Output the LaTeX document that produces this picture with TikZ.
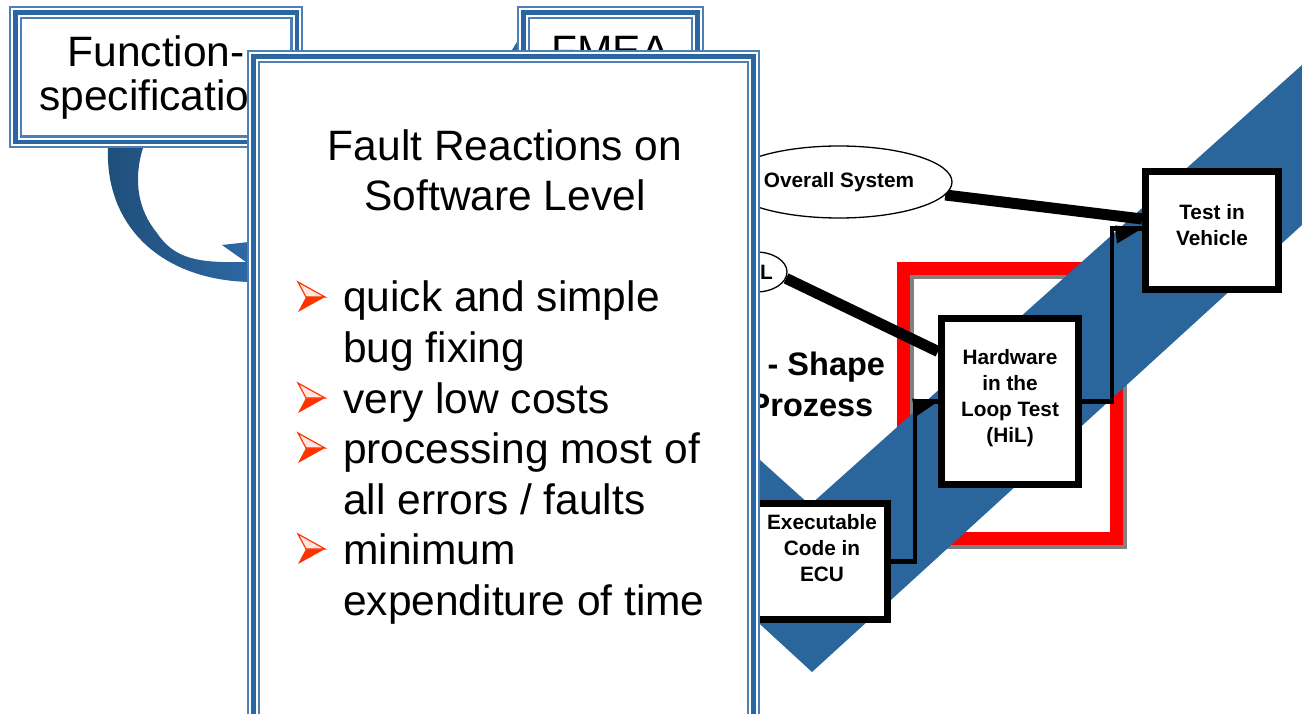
\documentclass[tikz,border=0pt]{standalone}
\usepackage{fontspec}
\setmainfont{Liberation Sans}
\usetikzlibrary{shapes.geometric,calc}
\definecolor{boxblue}{HTML}{2C66A0}
\definecolor{boxblueL}{HTML}{4A7FBA}
\definecolor{vblue}{HTML}{2A659B}
\definecolor{arrdark}{HTML}{1F4E79}
\definecolor{arrlight}{HTML}{2E6BA8}
\definecolor{bulred}{HTML}{FF3300}
\definecolor{framegray}{HTML}{808080}
\pgfdeclarelayer{back}
\pgfdeclarelayer{mid}
\pgfsetlayers{back,mid,main}
\tikzset{
  tribox/.style={rectangle, inner sep=0pt, align=center,
    preaction={fill=white},
    preaction={draw=boxblueL, line width=13pt},
    preaction={draw=white, line width=8.6pt},
    draw=boxblue, line width=4.5pt},
  blkbox/.style={rectangle, draw=black, line width=7pt, fill=white, inner sep=0pt,
    align=center, font=\fontsize{20.8}{25.7}\selectfont\bfseries},
  oval/.style={ellipse, draw=black, line width=1.3pt, fill=white, inner sep=0pt,
    font=\fontsize{20.8}{25.7}\selectfont\bfseries},
  conn/.style={draw=black, line width=4.5pt},
  thickconn/.style={draw=black, line width=11pt},
  bigtext/.style={inner sep=0pt, font=\fontsize{42.5}{50}\selectfont},
  vtext/.style={inner sep=0pt, align=center, font=\fontsize{32.5}{41}\selectfont\bfseries},
  bularrow/.pic={
    \fill[bulred] (0,15) -- (8,0) -- (27,0) -- cycle;
    \filldraw[fill=bulred!12, draw=bulred, line width=1.2pt] (0,-15) -- (8,0) -- (27,0) -- cycle;
  }
}
\begin{document}
\begin{tikzpicture}[x=1pt,y=-1pt]
\useasboundingbox (0,0) rectangle (1302,714);
\clip (0,0) rectangle (1302,714);

% background: red frame and blue V band
\begin{pgfonlayer}{back}
\draw[framegray, line width=13pt] (907.5,272.5) rectangle (1120.5,542.5);
\draw[red, line width=13pt] (903.5,268.5) rectangle (1116.5,538.5);
\fill[vblue] (600,316) -- (810,505) -- (1302,65) -- (1302,225) -- (812,672) -- (600,477) -- cycle;
\end{pgfonlayer}

% ellipses
\node[oval, minimum width=226pt, minimum height=72pt] (ov) at (839,182) {Overall System};
\node[oval, minimum width=62pt, minimum height=40pt] (hl) at (756,272) {HiL};

% black boxes
\node[blkbox, minimum width=131pt, minimum height=116pt, text depth=27pt] (ex) at (822,561.5) {Executable\\Code in\\ECU};
\node[blkbox, minimum width=137pt, minimum height=166pt, text depth=11pt] (hil) at (1010,401.5) {Hardware\\in the\\Loop Test\\(HiL)};
\node[blkbox, minimum width=133pt, minimum height=118pt, text depth=11pt] (tv) at (1212,230.5) {Test in\\Vehicle};

% connectors
\begin{pgfonlayer}{mid}
\draw[thickconn] (ov) -- ($(tv.west)+(0,-11.5)$);
\draw[thickconn] (hl.-12) -- ($(hil.west)+(0,-50)$);
\draw[conn] (ex.east) -| ($(hil.west)+(-23,0)$) -- (hil.west);
\fill (hil.west) -- ++(-26,-3) -- ++(4,18) -- cycle;
\draw[conn] (hil.east) -| ($(tv.west)+(-30,-2)$) -- ($(tv.west)+(0,-2)$);
\fill ($(tv.west)+(0,-2)$) -- ++(-27,-3) -- ++(2,18) -- cycle;
\end{pgfonlayer}

% V-shape label
\node[vtext] (vs) at (811,384) {V - Shape\\Prozess};

% curved arrow
\shade[left color=arrdark, right color=arrlight]
  (108,148) .. controls (105,225) and (160,280) .. (250,282) -- (262,282) -- (262,240.5)
  -- (222,245) -- (246,262) .. controls (200,263) and (175,260) .. (157,233)
  .. controls (138,210) and (133,180) .. (143,148) -- cycle;
\fill[vblue] (512,50) -- (517,42) -- (517,50) -- cycle;

% top boxes
\node[tribox, minimum width=281.3pt, minimum height=129.3pt, font=\fontsize{42.5}{44}\selectfont] (fs) at (156.2,77.2) {Function-\\specification};
\node[tribox, minimum width=174pt, minimum height=129.3pt, font=\fontsize{42.5}{44}\selectfont, text depth=52pt] (fm) at (610.5,77.2) {FMEA};

% front box
\node[tribox, minimum width=500pt, minimum height=673.5pt] (fr) at (503.5,393.25) {};
\node[bigtext, anchor=base] (t1) at (505,161) {Fault Reactions on};
\node[bigtext, anchor=base] (t2) at (505,211) {Software Level};
\node[bigtext, anchor=base west] (i1a) at (343,312) {quick and simple};
\node[bigtext, anchor=base west] (i1b) at (343,362) {bug fixing};
\node[bigtext, anchor=base west] (i2) at (343,413) {very low costs};
\node[bigtext, anchor=base west] (i3a) at (343,463) {processing most of};
\node[bigtext, anchor=base west] (i3b) at (343,514) {all errors / faults};
\node[bigtext, anchor=base west] (i4a) at (343,564) {minimum};
\node[bigtext, anchor=base west] (i4b) at (343,615) {expenditure of time};
\pic (b1) at (298,297) {bularrow};
\pic (b2) at (298,398) {bularrow};
\pic (b3) at (298,448) {bularrow};
\pic (b4) at (298,549) {bularrow};
\end{tikzpicture}
\end{document}
